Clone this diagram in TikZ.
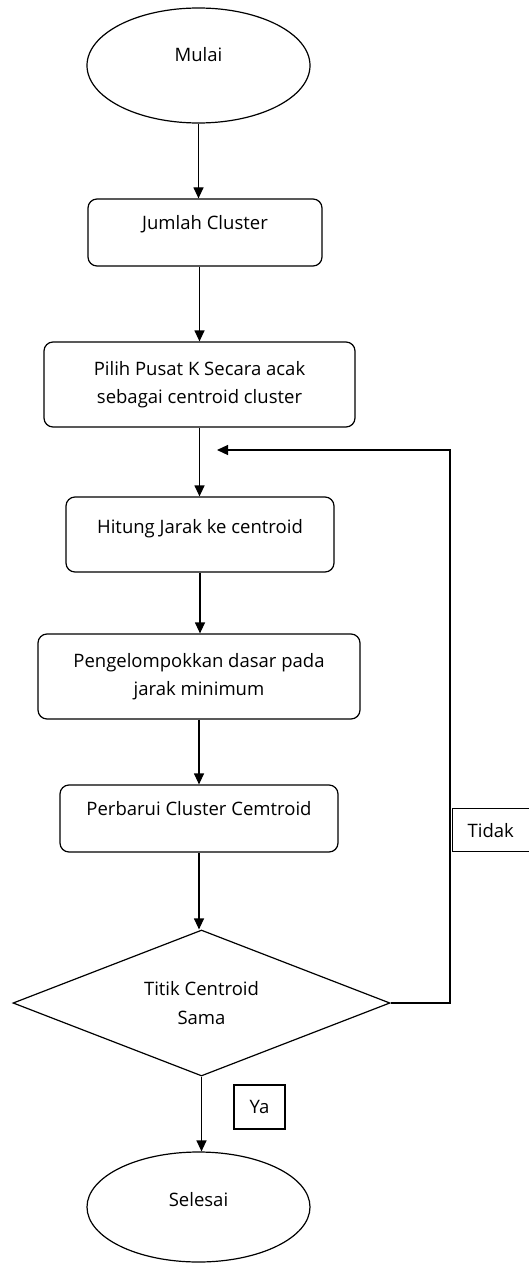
\documentclass[tikz,border=0pt]{standalone}
\usepackage{fontspec}
\setmainfont{Open Sans}
\usetikzlibrary{shapes.geometric,arrows.meta}

\begin{document}
\begin{tikzpicture}[x=1pt,y=-1pt,
  font=\fontsize{18.5}{28.5}\selectfont,
  terminal/.style={draw, ellipse, line width=1.2pt, inner sep=0pt, minimum width=223pt, text height=14pt},
  procbox/.style={draw, rectangle, rounded corners=9pt, line width=1.2pt, align=center, inner sep=0pt},
  decision/.style={draw, diamond, aspect=2.6, line width=1.2pt, inner sep=0pt, align=center,
    minimum width=377pt, minimum height=146pt},
  answerbox/.style={draw, rectangle, line width=1.2pt, inner sep=0pt},
  flow/.style={line width=1.2pt, -{Triangle[length=11pt,width=10pt]}}]
\useasboundingbox (0,0) rectangle (529,1265);
\clip (0,0) rectangle (529,1265);
%
\node[terminal, minimum height=115pt, text depth=22pt] (mulai) at (198.5,65.5) {Mulai};
\node[procbox, minimum width=234pt, minimum height=67pt, text height=14pt, text depth=20pt] (jumlah) at (205,232.5) {Jumlah Cluster};
\node[procbox, minimum width=311pt, minimum height=85pt] (pilih) at (199.5,384.5) {Pilih Pusat K Secara acak\\sebagai centroid cluster};
\node[procbox, minimum width=268pt, minimum height=75pt, text height=14pt, text depth=16pt] (hitung) at (200,534.5) {Hitung Jarak ke centroid};
\node[procbox, minimum width=322pt, minimum height=85pt] (kelompok) at (199,676.5) {Pengelompokkan dasar pada\\jarak minimum};
\node[procbox, minimum width=278pt, minimum height=67pt, text height=14pt, text depth=20pt] (perbarui) at (199,818.5) {Perbarui Cluster Cemtroid};
\node[decision] (sama) at (201.5,1003) {Titik Centroid\\Sama};
\node[terminal, minimum height=110pt, text depth=15pt] (selesai) at (198.5,1207) {Selesai};
%
\node[answerbox, anchor=north west, minimum height=43pt, text width=90pt, inner xsep=15pt, align=left] (tidak) at (452,808) {Tidak};
\node[answerbox, minimum width=51pt, minimum height=44pt] (ya) at (259.5,1107) {Ya};
%
\coordinate (turn) at (450,450);
\coordinate (back) at (217,450);
%
\draw[flow] (mulai.south) -- (mulai.south |- jumlah.north);
\draw[flow] (pilih.north |- jumlah.south) -- (pilih.north);
\draw[flow] (pilih.south) -- (pilih.south |- hitung.north);
\draw[flow] (hitung.south) -- (hitung.south |- kelompok.north);
\draw[flow] (kelompok.south) -- (kelompok.south |- perbarui.north);
\draw[flow] (perbarui.south) -- (perbarui.south |- sama.north);
\draw[flow] (sama.south) -- (sama.south |- selesai.north);
\draw[flow] (sama.east) -| (turn) -- (back);
\end{tikzpicture}
\end{document}
